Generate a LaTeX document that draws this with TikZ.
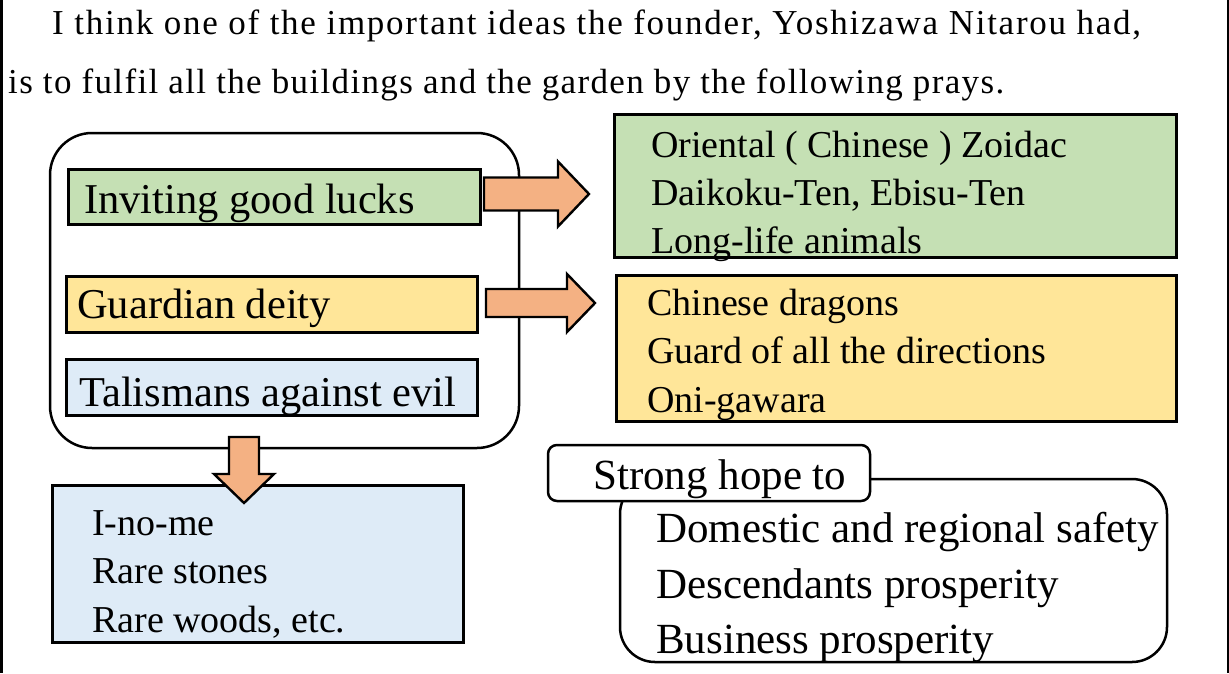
\documentclass[tikz,border=0pt]{standalone}
\usepackage{fontspec}
\setmainfont{Liberation Serif}
\newfontfamily\titlefonta[LetterSpace=5.0]{Liberation Serif}
\newfontfamily\titlefontb[LetterSpace=3.85]{Liberation Serif}
\definecolor{gr}{HTML}{C5E0B4}
\definecolor{ye}{HTML}{FFE699}
\definecolor{bl}{HTML}{DEEBF7}
\definecolor{org}{HTML}{F4B183}
\begin{document}
\begin{tikzpicture}[x=1pt,y=-1pt,
  box/.style={draw=black, line width=2.6pt, inner sep=0pt, anchor=north west},
  txt/.style={anchor=base west, inner sep=0pt},
  big/.style={txt, font=\fontsize{42.5}{50}\selectfont},
  mid/.style={txt, font=\fontsize{38}{46}\selectfont},
  hope/.style={txt, font=\fontsize{43}{50}\selectfont},
  ttla/.style={txt, font=\titlefonta\fontsize{35}{40}\selectfont},
  ttlb/.style={txt, font=\titlefontb\fontsize{35}{40}\selectfont},
  blockarrow/.style={draw=black, line width=2.4pt, fill=org, line join=miter}]
\useasboundingbox (0,0) rectangle (1229,673);
\fill[white] (0,0) rectangle (1229,673);
% page borders
\draw[line width=3.5pt] (1.5,0) -- (1.5,673);
\draw[line width=2pt] (1227.5,0) -- (1227.5,673);
% title
\node[ttla] (t1) at (52,34) {I think one of the important ideas the founder, Yoshizawa Nitarou had,};
\node[ttlb] (t2) at (8,93) {is to fulfil all the buildings and the garden by the following prays.};
% left group
\draw[line width=2.5pt, rounded corners=42pt] (50,133) rectangle (519,448);
\node[box, fill=gr, minimum width=412pt, minimum height=55pt] (g1) at (67,168) {};
\node[box, fill=ye, minimum width=411pt, minimum height=56pt] (y1) at (65,275) {};
\node[box, fill=bl, minimum width=411pt, minimum height=56pt] (b1) at (65,358) {};
\node[big] (g1t) at (84,213) {Inviting good lucks};
\node[big] (y1t) at (77,318) {Guardian deity};
\node[big] (b1t) at (79,406) {Talismans against evil};
% right boxes
\node[box, fill=gr, minimum width=562pt, minimum height=143pt] (g2) at (613,113) {};
\node[box, fill=ye, minimum width=560pt, minimum height=146pt] (y2) at (615,274) {};
\node[mid] (g2a) at (651,157) {Oriental ( Chinese ) Zoidac};
\node[mid] (g2b) at (651,205) {Daikoku-Ten, Ebisu-Ten};
\node[mid] (g2c) at (651,253) {Long-life animals};
\node[mid] (y2a) at (647,315) {Chinese dragons};
\node[mid] (y2b) at (647,363) {Guard of all the directions};
\node[mid] (y2c) at (647,412) {Oni-gawara};
% bottom-left box
\node[box, fill=bl, minimum width=411pt, minimum height=157pt] (b2) at (51,484) {};
\node[mid] (b2a) at (92,535) {I-no-me};
\node[mid] (b2b) at (92,583) {Rare stones};
\node[mid] (b2c) at (92,632) {Rare woods, etc.};
% block arrows
\draw[blockarrow] (484,177.5) -- (558,177.5) -- (558,161.5) -- (589,194) -- (558,226.5) -- (558,210.5) -- (484,210.5) -- cycle;
\draw[blockarrow] (486,289) -- (567,289) -- (567,274) -- (595,303) -- (567,332) -- (567,317) -- (486,317) -- cycle;
\draw[blockarrow] (229,437) -- (259,437) -- (259,474) -- (274,474) -- (244,503) -- (214,474) -- (229,474) -- cycle;
% strong hope
\draw[line width=2.5pt, rounded corners=35pt] (620,479) rectangle (1167,662);
\draw[line width=2.5pt, rounded corners=9pt, fill=white] (548,445) rectangle (870,501);
\node[hope] (sh) at (593,489) {Strong hope to};
\node[hope] (h1) at (656,542) {Domestic and regional safety};
\node[hope] (h2) at (656,598) {Descendants prosperity};
\node[hope] (h3) at (656,653) {Business prosperity};
\end{tikzpicture}
\end{document}
